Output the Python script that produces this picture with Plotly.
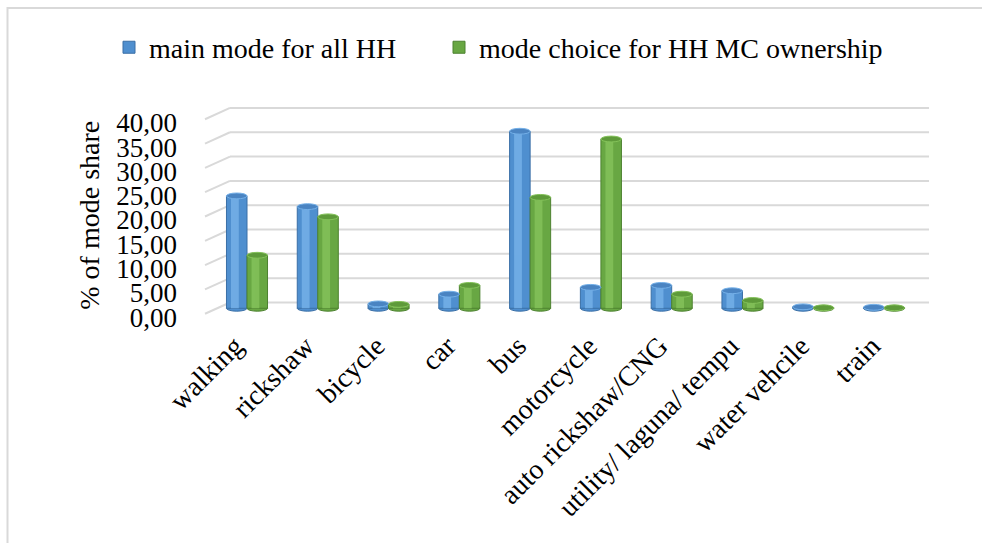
import plotly.graph_objects as go

# Mode share data (% of trips)
categories = ["walking", "rickshaw", "bicycle", "car", "bus", "motorcycle",
              "auto rickshaw/CNG", "utility/ laguna/ tempu", "water vehcile", "train"]
main_mode_all_hh = [23.1, 20.9, 0.9, 2.9, 36.4, 4.3, 4.7, 3.6, 0.3, 0.2]
mode_choice_mc = [10.9, 18.8, 0.8, 4.7, 22.8, 34.8, 2.9, 1.6, 0.1, 0.1]
series_names = ["main mode for all HH", "mode choice for HH MC ownership"]
y_tick_values = [0, 5, 10, 15, 20, 25, 30, 35, 40]
y_tick_labels = ["0,00", "5,00", "10,00", "15,00", "20,00", "25,00", "30,00", "35,00", "40,00"]

FONT = "Liberation Serif"
W, H = 982, 543
PL, PR, PT, PB = 200, 935, 104.4, 318.2      # plot area in pixels
Y0, Y1 = -2, 42
X0, X1 = -0.664, 9.72
BAR_W = 0.29
CAP = 0.6          # half-height of the cylinder end caps (data units)
BACK = 1.19        # back-wall offset of the gridlines (data units)
FRONT = 1.13       # front edge offset of the floor (data units)


def px_x(p):
    return (p - PL) / (PR - PL)


def px_y(p):
    return (PB - p) / (PB - PT)


xs = list(range(len(categories)))
styles = [
    dict(vals=main_mode_all_hh, name=series_names[0], off=-BAR_W, legend="legend",
         base="#4f8fcf", edge="#3a6fa6", light="#74b0e8", cap="#4a84c2"),
    dict(vals=mode_choice_mc, name=series_names[1], off=0.0, legend="legend2",
         base="#68a743", edge="#4d8230", light="#84c25a", cap="#5e9a3a"),
]

fig = go.Figure()
shapes = []

# back-wall gridlines with the perspective floor edge on the left
x_back_l = -0.5 + (230 - 211.6) / 70.8
x_back_r = 9.5 + (929 - 919.4) / 70.8
x_front_l = -0.5 + (205 - 211.6) / 70.8
for v in y_tick_values:
    shapes.append(dict(type="line", xref="x", yref="y", x0=x_back_l, x1=x_back_r,
                       y0=v + BACK, y1=v + BACK, line=dict(color="#d9d9d9", width=2),
                       layer="below"))
    shapes.append(dict(type="line", xref="x", yref="y", x0=x_front_l, x1=x_back_l,
                       y0=v - FRONT, y1=v + BACK, line=dict(color="#d9d9d9", width=2),
                       layer="below"))

for s in styles:
    fig.add_trace(go.Bar(
        x=xs, y=s["vals"], name=s["name"], width=BAR_W, offset=s["off"],
        legend=s["legend"],
        marker=dict(color=s["base"], line=dict(color=s["edge"], width=1)),
        hoverinfo="skip",
    ))
    # lighter vertical band for the rounded cylinder look
    fig.add_trace(go.Bar(
        x=xs, y=s["vals"], width=BAR_W * 0.38, offset=s["off"] + BAR_W * 0.22,
        marker=dict(color=s["light"], line=dict(width=0)), opacity=0.85,
        showlegend=False, hoverinfo="skip",
    ))
    for x, v in zip(xs, s["vals"]):
        # bottom cap
        shapes.append(dict(type="circle", xref="x", yref="y",
                           x0=x + s["off"], x1=x + s["off"] + BAR_W,
                           y0=-CAP, y1=CAP, fillcolor=s["base"],
                           line=dict(color=s["edge"], width=1), layer="below"))
        # top cap
        shapes.append(dict(type="circle", xref="x", yref="y",
                           x0=x + s["off"], x1=x + s["off"] + BAR_W,
                           y0=v - CAP, y1=v + CAP, fillcolor=s["cap"],
                           line=dict(color=s["light"], width=1), layer="above"))

# light outer border of the chart area
shapes.append(dict(type="rect", xref="paper", yref="paper",
                   x0=px_x(7.5), x1=px_x(995), y0=px_y(8.5), y1=px_y(560),
                   line=dict(color="#d9d9d9", width=2), fillcolor="rgba(0,0,0,0)"))

legend_font = dict(family=FONT, size=28, color="black")
fig.update_layout(
    width=W, height=H, autosize=False,
    margin=dict(l=PL, r=W - PR, t=PT, b=H - PB, pad=0),
    paper_bgcolor="white", plot_bgcolor="rgba(0,0,0,0)",
    barmode="overlay",
    font=dict(family=FONT, size=27, color="black"),
    shapes=shapes,
    showlegend=True,
    legend=dict(orientation="h", x=px_x(109), y=px_y(48), xanchor="left", yanchor="middle",
                font=legend_font, bgcolor="rgba(0,0,0,0)"),
    legend2=dict(orientation="h", x=px_x(439), y=px_y(48), xanchor="left", yanchor="middle",
                 font=legend_font, bgcolor="rgba(0,0,0,0)"),
    xaxis=dict(range=[X0, X1], tickvals=xs, ticktext=categories, tickangle=-45,
               showgrid=False, zeroline=False, showline=False, ticks="",
               ticklabelshift=-12, ticklabelstandoff=5,
               tickfont=dict(family=FONT, size=28, color="black"), fixedrange=True),
    yaxis=dict(range=[Y0, Y1], tickvals=y_tick_values, ticktext=y_tick_labels,
               showgrid=False, zeroline=False, showline=False, ticks="",
               ticklabelshift=9, ticklabelstandoff=22,
               tickfont=dict(family=FONT, size=27, color="black"), fixedrange=True),
    annotations=[dict(text="% of mode share", xref="paper", yref="paper",
                      x=px_x(90), y=px_y(216), xanchor="center", yanchor="middle",
                      textangle=-90, showarrow=False,
                      font=dict(family=FONT, size=28, color="black"))],
)

fig.write_html("out.html")
